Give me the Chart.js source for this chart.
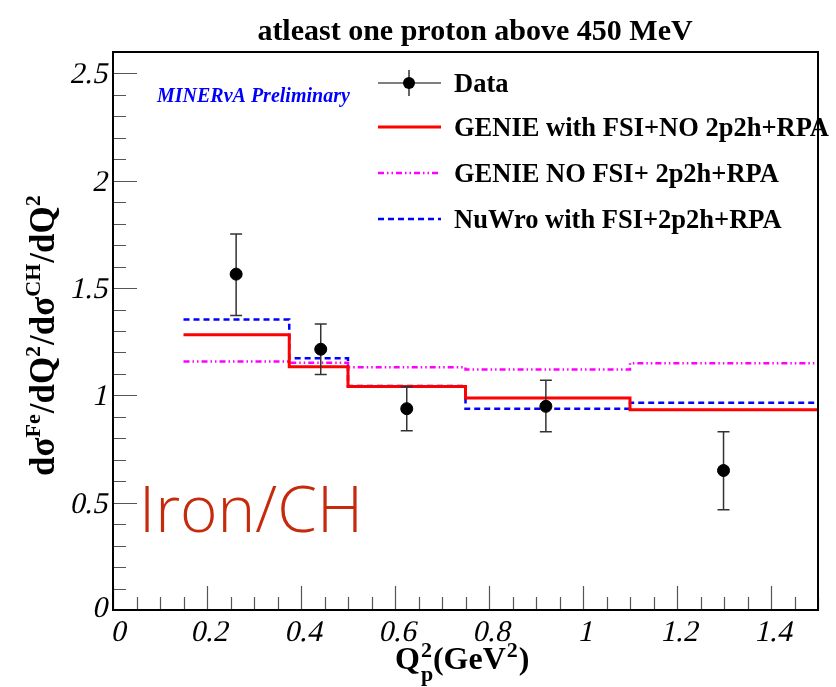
<!DOCTYPE html>
<html>
<head>
<meta charset="utf-8">
<script src="https://cdn.jsdelivr.net/npm/chart.js@4/dist/chart.umd.min.js"></script>
<style>
  html, body { margin: 0; padding: 0; background: #fff; }
</style>
</head>
<body>
<canvas id="c" width="836" height="687"></canvas>
<script>
// ── data ────────────────────────────────────────────────
const binEdges   = [0.15, 0.375, 0.5, 0.75, 1.1, 1.5];
const genieFsi   = [1.282, 1.134, 1.041, 0.988, 0.933];   // GENIE with FSI+NO 2p2h+RPA
const genieNoFsi = [1.158, 1.152, 1.131, 1.121, 1.150];   // GENIE NO FSI+ 2p2h+RPA
const nuwro      = [1.354, 1.173, 1.044, 0.938, 0.966];   // NuWro with FSI+2p2h+RPA

const dataX    = [0.262, 0.442, 0.625, 0.921, 1.299];
const dataY    = [1.565, 1.215, 0.938, 0.949, 0.650];
const dataLow  = [1.372, 1.097, 0.835, 0.830, 0.467];
const dataHigh = [1.752, 1.333, 1.040, 1.070, 0.830];

const xTicks = [0, 0.2, 0.4, 0.6, 0.8, 1, 1.2, 1.4];
const yTicks = [0, 0.5, 1, 1.5, 2, 2.5];
const xMinorStep = 0.05, yMinorStep = 0.1;

const SERIF = '"Liberation Serif", "DejaVu Serif", serif';

function histPoints(vals) {
  return binEdges.map((e, i) => ({ x: e, y: vals[Math.min(i, vals.length - 1)] }));
}

function fmtTick(v) { return String(+v.toFixed(1)); }

// slanted label (the italic face renders upright here, so skew by hand)
function slantText(ctx, t, px, py) {
  ctx.save();
  ctx.translate(px, py);
  ctx.transform(1, 0, -0.22, 1, 0, 0);
  ctx.fillText(t, 0, 0);
  ctx.restore();
}

// ROOT-ish decorations: frame, inward ticks, titles, legend, error bars
const rootDecor = {
  id: 'rootDecor',
  beforeDatasetDraw(chart, args) {
    if (args.index !== 0) return;
    const { ctx, scales: { x, y } } = chart;
    ctx.save();
    ctx.strokeStyle = '#333';
    ctx.lineWidth = 1.5;
    dataX.forEach((v, i) => {
      const px = x.getPixelForValue(v);
      const lo = y.getPixelForValue(dataLow[i]);
      const hi = y.getPixelForValue(dataHigh[i]);
      ctx.beginPath();
      ctx.moveTo(px, lo); ctx.lineTo(px, hi);
      ctx.moveTo(px - 6, lo); ctx.lineTo(px + 6, lo);
      ctx.moveTo(px - 6, hi); ctx.lineTo(px + 6, hi);
      ctx.stroke();
    });
    ctx.restore();
  },
  afterDraw(chart) {
    const { ctx, chartArea: a, scales: { x, y } } = chart;
    ctx.save();

    // ticks
    ctx.strokeStyle = '#555';
    ctx.lineWidth = 1.2;
    ctx.beginPath();
    for (let v = 0; v <= y.max + 1e-9; v += yMinorStep) {
      const py = Math.round(y.getPixelForValue(v)) + 0.5;
      const major = Math.abs(v / 0.5 - Math.round(v / 0.5)) < 1e-6;
      ctx.moveTo(a.left, py); ctx.lineTo(a.left + (major ? 24 : 13), py);
    }
    for (let v = 0; v <= x.max + 1e-9; v += xMinorStep) {
      const px = Math.round(x.getPixelForValue(v)) + 0.5;
      const major = Math.abs(v / 0.2 - Math.round(v / 0.2)) < 1e-6;
      ctx.moveTo(px, a.bottom); ctx.lineTo(px, a.bottom - (major ? 24 : 13));
    }
    ctx.stroke();

    // tick labels (slanted, ROOT style)
    ctx.fillStyle = '#000';
    ctx.font = '30px ' + SERIF;
    ctx.textBaseline = 'alphabetic';
    ctx.textAlign = 'right';
    yTicks.forEach(v => slantText(ctx, fmtTick(v), a.left - 6, y.getPixelForValue(v) + (v === 0 ? 7 : 10)));
    ctx.textAlign = 'center';
    xTicks.forEach(v => slantText(ctx, fmtTick(v), x.getPixelForValue(v) + (v === 0 ? 5 : 2), a.bottom + 31));

    // frame
    ctx.strokeStyle = '#000';
    ctx.lineWidth = 2;
    ctx.strokeRect(a.left, a.top, a.right - a.left, a.bottom - a.top);

    // title
    ctx.fillStyle = '#000';
    ctx.textBaseline = 'alphabetic';
    ctx.textAlign = 'center';
    ctx.font = 'bold 30px ' + SERIF;
    ctx.fillText('atleast one proton above 450 MeV', 475, 40);

    // MINERvA label
    ctx.textAlign = 'left';
    ctx.fillStyle = '#0000ff';
    ctx.font = 'italic bold 20px ' + SERIF;
    ctx.fillText('MINERνA Preliminary', 157, 102);

    // Iron/CH
    ctx.fillStyle = '#c62a0d';
    ctx.font = '300 64px "Open Sans", "Liberation Sans", sans-serif';
    ctx.fillText('Iron/CH', 139, 532);

    // x axis title: Q^2_p(GeV^2)
    ctx.fillStyle = '#000';
    let cx = 395;
    const xb = 669;
    ctx.font = 'bold 32px ' + SERIF;
    ctx.fillText('Q', cx, xb); cx += ctx.measureText('Q').width + 1;
    ctx.font = 'bold 22px ' + SERIF;
    ctx.fillText('2', cx, xb - 12);
    ctx.fillText('p', cx, xb + 12);
    cx += ctx.measureText('2').width + 1;
    ctx.font = 'bold 32px ' + SERIF;
    ctx.fillText('(GeV', cx, xb); cx += ctx.measureText('(GeV').width + 1;
    ctx.font = 'bold 22px ' + SERIF;
    ctx.fillText('2', cx, xb - 12); cx += ctx.measureText('2').width + 1;
    ctx.font = 'bold 32px ' + SERIF;
    ctx.fillText(')', cx, xb);

    // y axis title: dσ^Fe/dQ^2/dσ^CH/dQ^2 (rotated)
    ctx.save();
    ctx.translate(54, 476);
    ctx.rotate(-Math.PI / 2);
    const parts = [['dσ', 0], ['Fe', 1], ['/dQ', 0], ['2', 1], ['/dσ', 0], ['CH', 1], ['/dQ', 0], ['2', 1]];
    let ty = 0;
    parts.forEach(([t, sup]) => {
      ctx.font = (sup ? 'bold 22px ' : 'bold 35px ') + SERIF;
      ctx.fillText(t, ty, sup ? -14 : 0);
      ty += ctx.measureText(t).width + (sup ? 1 : 0);
    });
    ctx.restore();

    // legend
    const rows = [83, 127, 173, 219];
    ctx.font = 'bold 26.5px ' + SERIF;
    ctx.fillStyle = '#000';
    ['Data', 'GENIE with FSI+NO 2p2h+RPA', 'GENIE NO FSI+ 2p2h+RPA', 'NuWro with FSI+2p2h+RPA']
      .forEach((t, i) => ctx.fillText(t, 454, rows[i] + 9));

    ctx.strokeStyle = '#000';
    ctx.lineWidth = 1.2;
    ctx.beginPath();
    ctx.moveTo(378, rows[0]); ctx.lineTo(441, rows[0]);
    ctx.moveTo(409, rows[0] - 13); ctx.lineTo(409, rows[0] + 13);
    ctx.stroke();
    ctx.beginPath();
    ctx.arc(409, rows[0], 6, 0, Math.PI * 2);
    ctx.fill();

    const sw = [[rows[1], '#ff0000', 3, []], [rows[2], '#ff00ff', 2.5, [6, 3, 1.5, 3, 1.5, 3]], [rows[3], '#0000ff', 2.5, [6, 4]]];
    sw.forEach(([py, col, lw, dash]) => {
      ctx.strokeStyle = col; ctx.lineWidth = lw; ctx.setLineDash(dash);
      ctx.beginPath(); ctx.moveTo(378, py); ctx.lineTo(441, py); ctx.stroke();
    });
    ctx.setLineDash([]);
    ctx.restore();
  }
};

new Chart(document.getElementById('c'), {
  type: 'scatter',
  data: {
    datasets: [
      {
        label: 'Data',
        data: dataX.map((v, i) => ({ x: v, y: dataY[i] })),
        backgroundColor: '#000', borderColor: '#000',
        pointRadius: 6, showLine: false
      },
      {
        label: 'GENIE with FSI+NO 2p2h+RPA',
        data: histPoints(genieFsi),
        showLine: true, stepped: true, pointRadius: 0,
        borderColor: '#ff0000', borderWidth: 3
      },
      {
        label: 'GENIE NO FSI+ 2p2h+RPA',
        data: histPoints(genieNoFsi),
        showLine: true, stepped: true, pointRadius: 0,
        borderColor: '#ff00ff', borderWidth: 2.5, borderDash: [6, 3, 1.5, 3, 1.5, 3]
      },
      {
        label: 'NuWro with FSI+2p2h+RPA',
        data: histPoints(nuwro),
        showLine: true, stepped: true, pointRadius: 0,
        borderColor: '#0000ff', borderWidth: 2.5, borderDash: [6, 4]
      }
    ]
  },
  options: {
    responsive: false,
    animation: false,
    layout: { padding: { top: 52, right: 18, left: 0, bottom: 0 } },
    plugins: { legend: { display: false }, tooltip: { enabled: false }, title: { display: false } },
    scales: {
      x: {
        type: 'linear', min: 0, max: 1.5,
        afterFit: s => { s.height = 77; },
        afterBuildTicks: s => { s.ticks = xTicks.map(v => ({ value: v })); },
        grid: { display: false, drawTicks: false },
        border: { display: false },
        ticks: { display: false }
      },
      y: {
        type: 'linear', min: 0, max: 2.6,
        afterFit: s => { s.width = 113; },
        afterBuildTicks: s => { s.ticks = yTicks.map(v => ({ value: v })); },
        grid: { display: false, drawTicks: false },
        border: { display: false },
        ticks: { display: false }
      }
    }
  },
  plugins: [rootDecor]
});
</script>
</body>
</html>
